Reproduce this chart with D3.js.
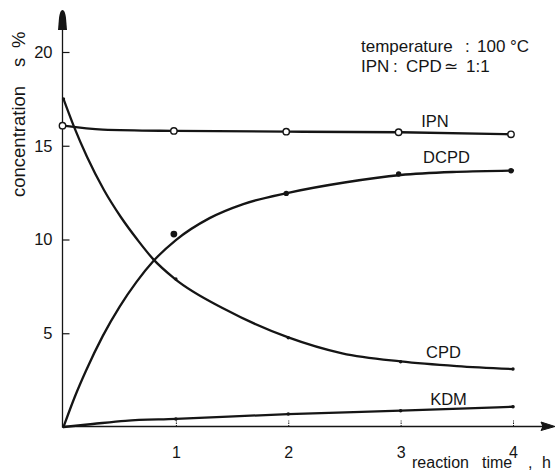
<!DOCTYPE html>
<html><head><meta charset="utf-8">
<script src="https://cdn.jsdelivr.net/npm/d3@7"></script>
<style>
html,body{margin:0;padding:0;background:#fff;}
text{font-family:"Liberation Sans",Arial,sans-serif;fill:#151515;}
</style></head>
<body>
<svg id="chart" width="557" height="472"></svg>
<script>
// measured points (reaction time, h)
const timesH = [0, 1, 2, 3, 4];
const ipnPts  = [16.07, 15.79, 15.75, 15.72, 15.61];
const dcpdPts = [0, 10.29, 12.46, 13.49, 13.67];
const cpdPts  = [17.49, 7.89, 4.76, 3.48, 3.09];
const kdmPts  = [0, 0.43, 0.69, 0.87, 1.08];

// hand-drawn fitted curves
const ipnFitT  = [0, 0.35, 1, 2, 3, 4];
const ipnFitV  = [16.07, 15.86, 15.79, 15.75, 15.72, 15.61];
const dcpdFitT = [0, 0.1, 0.2, 0.35, 0.5, 0.65, 0.8, 1.0, 1.3, 1.6, 2.0, 2.5, 3.0, 3.5, 4.0];
const dcpdFitV = [0, 1.6, 3.0, 4.86, 6.42, 7.74, 8.85, 9.97, 11.14, 11.89, 12.49, 13.04, 13.44, 13.61, 13.68];
const cpdFitT  = [0, 0.093, 0.21, 0.36, 0.51, 0.66, 0.8, 0.985, 1.45, 2, 2.48, 3, 3.5, 4];
const cpdFitV  = [17.49, 16.02, 14.4, 12.64, 11.2, 9.97, 8.94, 7.93, 6.24, 4.78, 3.93, 3.5, 3.25, 3.09];
const kdmFitT  = [0, 0.26, 0.55, 1, 2, 3, 4];
const kdmFitV  = [0, 0.16, 0.33, 0.43, 0.69, 0.87, 1.08];

const yTicks = [5, 10, 15, 20];
const xTicks = [1, 2, 3, 4];
const seriesNames = ["IPN", "DCPD", "CPD", "KDM"];

const svg = d3.select("#chart");
const ink = "#151515";
const x = d3.scaleLinear().domain([0, 4]).range([63.5, 513]);
const y = d3.scaleLinear().domain([0, 20]).range([427, 52]);
const x0 = x(0) - 1, y0 = y(0) - 0.5;

// axes lines + arrows
svg.append("line").attr("x1", x0).attr("x2", x0).attr("y1", y0 + 1).attr("y2", 28)
  .attr("stroke", ink).attr("stroke-width", 1.3);
svg.append("path").attr("d", `M${x0},10 C${x0+2},10 ${x0+3},14 ${x0+3.5},18 L${x0+4.5},30 L${x0-4.5},30 L${x0-3.5},18 C${x0-3},14 ${x0-2},10 ${x0},10 Z`)
  .attr("fill", ink);
svg.append("line").attr("x1", x0).attr("x2", 545).attr("y1", y0).attr("y2", y0)
  .attr("stroke", ink).attr("stroke-width", 1.3);
svg.append("path").attr("d", `M555,${y0} L541,${y0-4.5} L543,${y0} L541,${y0+4} Z`)
  .attr("fill", ink).attr("stroke", ink).attr("stroke-width", 1);

// y axis ticks
const yAxis = d3.axisLeft(y).tickValues(yTicks).tickSizeInner(-7).tickSizeOuter(0).tickPadding(10)
  .tickFormat(d3.format("d"));
const gy = svg.append("g").attr("transform", `translate(${x0},0)`).call(yAxis);
gy.select(".domain").remove();
gy.selectAll(".tick line").attr("stroke", ink).attr("stroke-width", 1.2);
gy.selectAll(".tick text").attr("font-size", 16.5).attr("fill", ink)
  .attr("font-family", "Liberation Sans, Arial, sans-serif");

// x axis ticks
const xAxis = d3.axisBottom(x).tickValues(xTicks).tickSizeInner(-6).tickSizeOuter(0).tickPadding(20)
  .tickFormat(d3.format("d"));
const gx = svg.append("g").attr("transform", `translate(0,${y0})`).call(xAxis);
gx.select(".domain").remove();
gx.selectAll(".tick line").attr("stroke", ink).attr("stroke-width", 1).attr("stroke-dasharray", "1.5,1");
gx.selectAll(".tick text").attr("font-size", 16).attr("fill", ink)
  .attr("font-family", "Liberation Sans, Arial, sans-serif");

// curves
const line = d3.line().x(d => x(d[0])).y(d => y(d[1])).curve(d3.curveMonotoneX);
const fits = [[ipnFitT, ipnFitV], [dcpdFitT, dcpdFitV], [cpdFitT, cpdFitV], [kdmFitT, kdmFitV]];
fits.forEach(([T, V]) => {
  svg.append("path").attr("d", line(T.map((t, i) => [t, V[i]])))
    .attr("fill", "none").attr("stroke", ink).attr("stroke-width", 2.3)
    .attr("stroke-linejoin", "round").attr("stroke-linecap", "round");
});

// markers
svg.append("g").selectAll("circle").data(timesH.map((t, i) => [t, ipnPts[i]])).join("circle")
  .attr("cx", d => x(d[0]) - (d[0] === 0 ? 1 : 2)).attr("cy", d => y(d[1]))
  .attr("r", 3.2).attr("fill", "#fff").attr("stroke", ink).attr("stroke-width", 1.4);
svg.append("g").selectAll("circle").data(timesH.map((t, i) => [t, dcpdPts[i]]).filter(d => d[0] > 0)).join("circle")
  .attr("cx", d => x(d[0]) - 2).attr("cy", d => y(d[1]))
  .attr("r", d => d[0] === 1 ? 3.4 : 2.7).attr("fill", ink);
svg.append("g").selectAll("circle").data(timesH.map((t, i) => [t, cpdPts[i]])).join("circle")
  .attr("cx", d => x(d[0])).attr("cy", d => y(d[1]))
  .attr("r", 1.7).attr("fill", ink);
svg.append("g").selectAll("circle").data(timesH.map((t, i) => [t, kdmPts[i]]).filter(d => d[0] > 0)).join("circle")
  .attr("cx", d => x(d[0])).attr("cy", d => y(d[1]))
  .attr("r", 1.8).attr("fill", ink);

// series labels
const labelPos = [[435, ipnPts], [446.5, dcpdPts], [443.5, cpdPts], [448.5, kdmPts]];
const labelOffset = [-6.5, -9.5, -7.5, -4];
seriesNames.forEach((name, i) => {
  const vals = labelPos[i][1];
  svg.append("text").attr("x", labelPos[i][0])
    .attr("y", y(d3.mean([vals[3], vals[4]])) + labelOffset[i])
    .attr("text-anchor", "middle").attr("font-size", 16.5).text(name);
});

// condition annotation
const ann1 = svg.append("text").attr("y", 52).attr("font-size", 17);
ann1.append("tspan").attr("x", 361).text("temperature");
ann1.append("tspan").attr("x", 465).text(":");
ann1.append("tspan").attr("x", 477).text("100");
ann1.append("tspan").attr("x", 510).text("°C");
const ann2 = svg.append("text").attr("y", 72).attr("font-size", 17);
ann2.append("tspan").attr("x", 361).text("IPN");
ann2.append("tspan").attr("x", 393).text(":");
ann2.append("tspan").attr("x", 406).text("CPD");
ann2.append("tspan").attr("x", 444).text("≃");
ann2.append("tspan").attr("x", 466).text("1:1");

// axis titles
svg.append("text").attr("transform", "translate(25,197) rotate(-90)").attr("font-size", 18.5).text("concentration");
svg.append("text").attr("transform", "translate(25,67) rotate(-90)").attr("font-size", 18.5).text("s");
svg.append("text").attr("transform", "translate(25,48) rotate(-90)").attr("font-size", 18.5).text("%");
const xt = svg.append("text").attr("y", 468).attr("font-size", 16);
xt.append("tspan").attr("x", 412).text("reaction");
xt.append("tspan").attr("x", 482).text("time");
xt.append("tspan").attr("x", 528).text(",");
xt.append("tspan").attr("x", 542).text("h");
</script>
</body></html>
